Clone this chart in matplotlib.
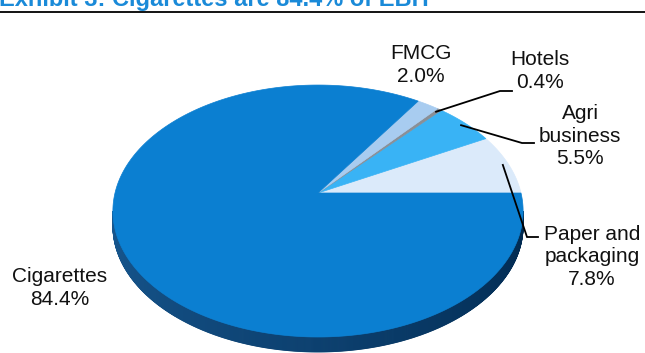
import numpy as np
import matplotlib
matplotlib.use("Agg")
import matplotlib.pyplot as plt
from matplotlib.patches import Polygon

plt.rcParams['font.family'] = ['Liberation Sans', 'DejaVu Sans']

# slices, counter-clockwise from 3 o'clock
segments = ["Paper and\npackaging", "Agri\nbusiness", "Hotels", "FMCG", "Cigarettes"]
shares = [7.8, 5.5, 0.4, 2.0, 84.4]
colors = ["#dbeafa", "#39b3f5", "#8a8f96", "#a8ccf0", "#0b7fd1"]
title = "Exhibit 3: Cigarettes are 84.4% of EBIT"

# pie geometry (pixels)
cx, cy = 318, 193
R, C, K = 203, 123.4, 0.143
depth = 15


def proj(theta, r=1.0):
    u = r * np.cos(theta)
    v = r * np.sin(theta)
    w = 1 + K * v
    return cx + R * u / w, cy - C * v / w


fig = plt.figure(figsize=(6.45, 3.53), dpi=100)
ax = fig.add_axes([0, 0, 1, 1])
ax.set_xlim(0, 645)
ax.set_ylim(353, 0)
ax.axis("off")

# side wall
t = np.linspace(np.pi, 2 * np.pi, 721)
xs, ys = proj(t)
i0, i1 = np.argmin(xs), np.argmax(xs)
side_c0 = np.array([0x18, 0x58, 0x90]) / 255
side_c1 = np.array([0x00, 0x28, 0x4e]) / 255
for i in range(i0, i1):
    f = (i - i0) / (i1 - i0)
    col = side_c0 * (1 - f) + side_c1 * f
    quad = [(xs[i], ys[i]), (xs[i + 1], ys[i + 1]),
            (xs[i + 1], ys[i + 1] + depth), (xs[i], ys[i] + depth)]
    ax.add_patch(Polygon(quad, closed=True, fc=col, ec=col, lw=0.6))

# top faces
fr = np.array(shares) / sum(shares)
edges = np.concatenate([[0], np.cumsum(fr)]) * 2 * np.pi
mids = []
for a0, a1, col in zip(edges[:-1], edges[1:], colors):
    tt = np.linspace(a0, a1, max(3, int((a1 - a0) * 120)))
    px, py = proj(tt)
    pts = [(cx, cy)] + list(zip(px, py))
    ax.add_patch(Polygon(pts, closed=True, fc=col, ec=col, lw=0.5))
    mids.append((a0 + a1) / 2)

def label(i, x, y):
    ax.text(x, y, f"{segments[i]}\n{shares[i]:.1f}%", ha="center", va="center",
            fontsize=15, color="#111111", linespacing=1.25)

# leader lines: rim point -> elbow -> short horizontal
leaders = {1: (522, 143, 534), 2: (500, 91, 512), 0: (527, 237, 538)}
for i, (ex, ey, hx) in leaders.items():
    sx, sy = proj(mids[i], 0.97)
    ax.plot([sx, ex, hx], [sy, ey, ey], color="black", lw=1.3,
            solid_joinstyle="miter")

label(3, 421, 65)
label(2, 540, 71)
label(1, 580, 136)
label(0, 592, 257)
label(4, 60, 288)

# title cut off at the top, rule below
fig.text(-0.002, 1 - 6 / 353, title, ha="left", va="baseline",
         fontsize=17, fontweight="bold", color="#1a8ad8")
fig.add_artist(plt.Line2D([0, 1], [1 - 11.5 / 353] * 2, color="black", lw=1.3))

fig.savefig("out.png", dpi=100)
